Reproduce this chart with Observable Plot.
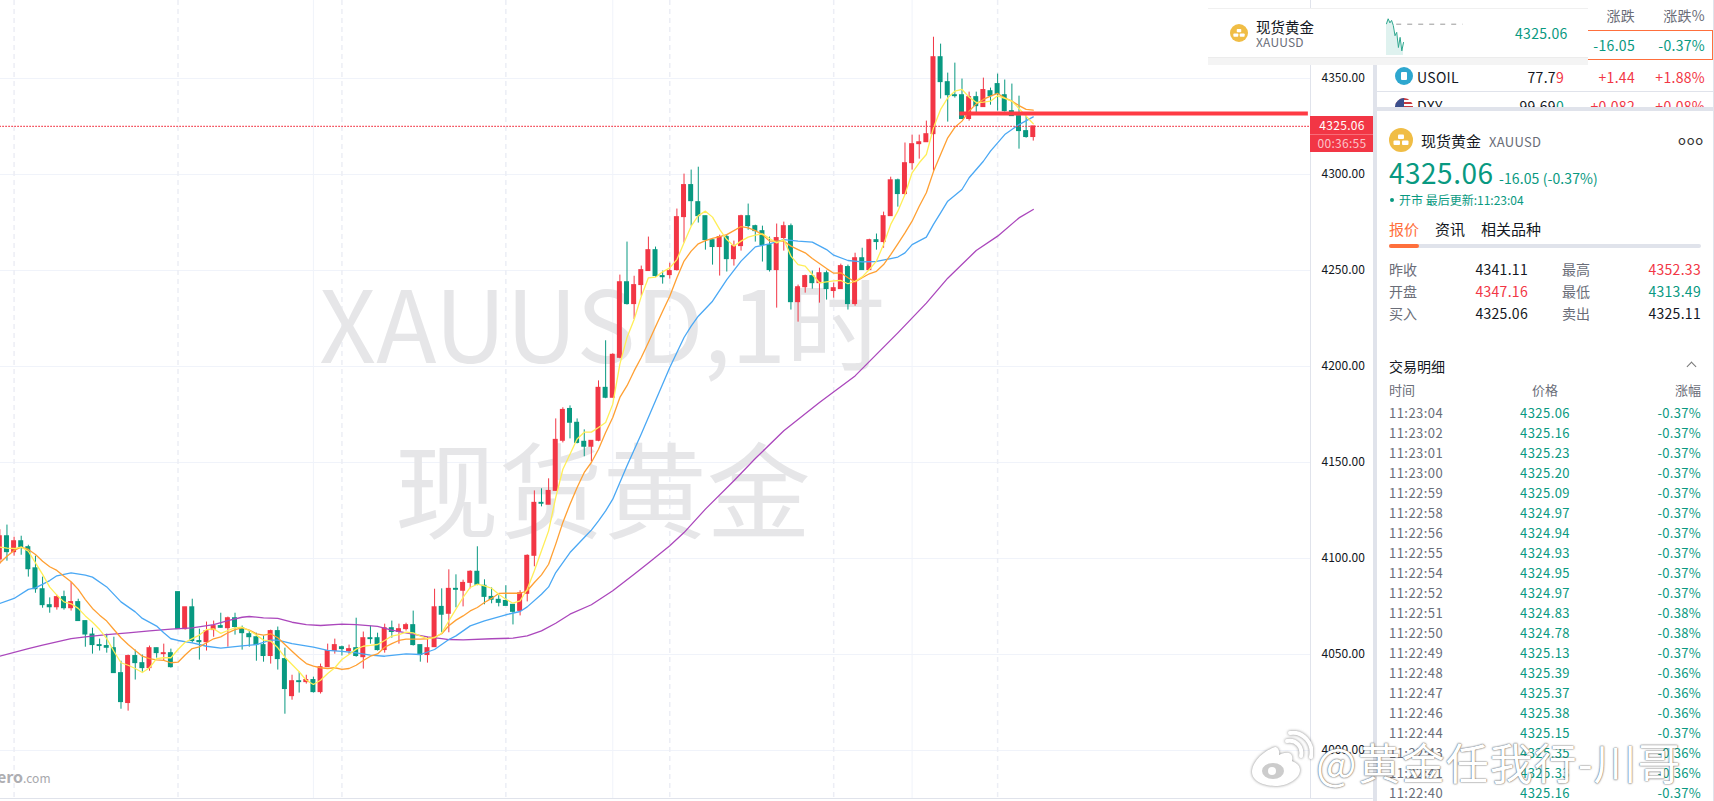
<!DOCTYPE html>
<html lang="zh">
<head>
<meta charset="utf-8">
<script src="https://cdn.jsdelivr.net/npm/d3@7"></script>
<script src="https://cdn.jsdelivr.net/npm/@observablehq/plot@0.6"></script>
<style>
html,body{margin:0;padding:0;background:#fff;}
#page{position:relative;width:1714px;height:801px;overflow:hidden;background:#fff;font-family:"Noto Sans CJK SC","Noto Sans",sans-serif;color:#131722;}
#page svg{display:block;}
.t{position:absolute;white-space:nowrap;line-height:1;transform:translateY(-50%);letter-spacing:.3px;}
.r{transform:translate(-100%,-50%);}
.c{transform:translate(-50%,-50%);}
.box{position:absolute;}
.g{color:#089981}.d{color:#f23645}.m{color:#6a6d78}
</style>
</head>
<body>
<div id="page"></div>
<script>
const open=[4099.5,4111.6,4103.3,4109.0,4105.9,4094.9,4084.0,4075.7,4074.6,4079.9,4074.1,4077.3,4067.4,4060.4,4054.9,4054.4,4053.3,4040.3,4024.7,4049.2,4045.5,4042.9,4053.3,4050.2,4050.7,4082.5,4063.2,4074.6,4057.0,4056.4,4062.7,4064.8,4063.7,4068.9,4063.7,4060.6,4059.0,4054.9,4049.2,4062.2,4047.6,4028.3,4036.1,4035.6,4036.7,4030.4,4043.4,4051.8,4053.8,4051.8,4053.3,4048.6,4058.5,4058.5,4052.3,4063.7,4061.7,4063.2,4065.3,4054.9,4049.7,4053.8,4074.8,4071.2,4084.2,4083.2,4087.3,4093.1,4085.8,4080.0,4078.5,4077.9,4075.9,4072.7,4081.6,4101.4,4129.0,4128.0,4135.2,4161.3,4177.9,4170.7,4160.8,4158.2,4161.3,4188.9,4183.7,4204.5,4243.9,4232.5,4242.4,4249.7,4260.6,4247.1,4247.6,4250.2,4277.8,4294.5,4285.6,4278.3,4265.8,4262.2,4267.4,4255.9,4262.7,4278.3,4273.1,4270.5,4263.2,4250.2,4266.9,4273.1,4233.5,4241.3,4247.1,4243.4,4248.6,4239.3,4240.3,4251.8,4232.5,4256.4,4250.2,4265.8,4264.8,4278.3,4297.0,4289.8,4305.9,4315.8,4316.8,4321.0,4361.1,4348.1,4341.3,4341.3,4328.9,4340.3,4335.1,4343.4,4347.1,4341.3,4333.0,4330.4,4322.6,4319.5];
const high=[4115,4117.4,4111.1,4111.6,4106.9,4101.2,4090.3,4079.5,4080.9,4083.0,4087.5,4078.8,4067.4,4063.7,4058.0,4060.6,4059.0,4046.5,4049.7,4052.3,4049.7,4054.4,4053.3,4055.4,4052.8,4082.5,4074.6,4078.8,4063.2,4066.9,4067.4,4071.5,4069.5,4071.5,4064.8,4062.2,4061.1,4059.6,4062.7,4064.3,4053.3,4039.2,4040.8,4039.2,4038.2,4045.0,4055.4,4058.0,4054.4,4054.9,4068.9,4061.7,4064.8,4061.1,4065.8,4067.4,4065.8,4066.3,4072.6,4054.9,4059.0,4084.0,4084.2,4094.1,4091.5,4088.7,4093.6,4106.1,4088.9,4084.7,4080.6,4085.8,4075.9,4083.2,4101.9,4135.2,4136.3,4141.5,4172.7,4178.5,4179.5,4172.7,4167.0,4161.3,4192.5,4213.4,4206.6,4247.6,4264.8,4247.0,4252.3,4267.4,4262.2,4249.7,4253.8,4282.0,4300.2,4302.3,4303.8,4278.3,4265.8,4268.4,4268.4,4265.3,4278.8,4284.6,4273.6,4273.1,4267.4,4274.2,4275.2,4274.2,4242.4,4247.6,4249.7,4251.2,4249.7,4243.4,4253.3,4252.8,4259.0,4261.6,4266.3,4269.0,4280.4,4298.6,4297.6,4316.4,4320.5,4320.5,4327.8,4371.5,4367.9,4352.8,4358.0,4349.7,4342.9,4342.9,4350.2,4345.0,4352.3,4349.2,4347.1,4340.8,4330.4,4325.06];
const low=[4097,4098.6,4101.2,4101.7,4090.3,4081.9,4074.1,4071.5,4073.1,4073.1,4072.6,4067.4,4053.8,4050.2,4051.8,4050.7,4040.3,4021.5,4020.5,4036.7,4040.8,4041.3,4048.1,4046.5,4042.9,4063.2,4062.7,4055.9,4047.1,4051.8,4059.0,4063.7,4053.8,4060.1,4052.3,4053.8,4046.5,4046.0,4045.0,4041.9,4018.9,4026.2,4029.9,4034.6,4029.9,4029.4,4043.4,4050.2,4049.2,4049.7,4048.6,4042.4,4055.4,4051.8,4050.7,4058.5,4055.4,4062.2,4054.4,4046.0,4045.5,4053.8,4061.3,4061.3,4074.3,4074.8,4084.2,4085.8,4075.9,4076.4,4074.8,4075.3,4065.4,4070.1,4077.4,4095.7,4126.9,4128.0,4135.2,4160.2,4162.3,4159.7,4153.0,4150.3,4160.8,4183.2,4183.7,4204.0,4232.0,4224.5,4236.6,4249.7,4246.5,4242.9,4245.5,4249.7,4264.3,4273.1,4274.7,4260.6,4252.8,4247.1,4249.2,4252.3,4260.1,4271.0,4264.8,4254.4,4249.2,4230.4,4260.1,4229.4,4223.1,4238.2,4240.3,4233.0,4234.6,4235.6,4240.3,4229.4,4231.4,4250.2,4250.2,4260.6,4261.6,4278.3,4283.0,4289.2,4302.3,4308.0,4316.8,4301.8,4339.3,4327.3,4339.8,4328.9,4327.8,4332.0,4335.1,4336.1,4333.0,4332.5,4330.4,4313.2,4318.9,4317.4];
const close=[4111.6,4103.3,4109.0,4105.9,4094.4,4084.0,4075.7,4074.6,4079.9,4074.1,4077.3,4067.4,4060.4,4054.9,4054.4,4053.5,4040.3,4025.2,4049.2,4045.5,4042.9,4053.3,4050.7,4050.7,4043.4,4063.2,4074.6,4057.0,4056.4,4062.2,4064.8,4063.9,4068.9,4064.3,4061.1,4059.0,4054.9,4049.2,4062.2,4047.6,4032.0,4036.1,4035.6,4036.7,4030.4,4043.4,4051.8,4054.9,4052.8,4052.8,4049.2,4058.5,4058.0,4052.3,4063.7,4061.7,4063.2,4065.3,4054.9,4049.7,4053.3,4074.6,4070.7,4084.2,4083.7,4087.3,4093.1,4086.3,4080.0,4078.5,4076.9,4075.3,4072.2,4081.9,4101.4,4129.0,4128.5,4135.2,4161.8,4177.4,4170.7,4160.2,4158.2,4161.3,4188.9,4183.7,4206.1,4243.9,4232.5,4242.4,4250.2,4260.6,4247.1,4246.5,4249.7,4277.8,4294.5,4286.1,4278.3,4265.8,4262.2,4267.4,4255.9,4262.7,4278.3,4273.1,4270.5,4263.2,4250.2,4266.9,4273.1,4233.5,4241.3,4247.1,4243.4,4248.6,4240.3,4240.8,4252.3,4232.5,4256.4,4250.2,4265.8,4264.8,4278.3,4297.0,4289.8,4305.9,4315.8,4316.8,4321.0,4361.1,4348.1,4341.3,4340.8,4328.9,4340.3,4335.6,4344.0,4340.8,4341.9,4333.0,4330.4,4322.6,4319.5,4325.06];
const maYellow=[4105.9,4105.4,4105.2,4105.9,4103.8,4097.7,4091.7,4085.1,4080.9,4077.4,4076.4,4074.0,4070.1,4066.8,4063.0,4058.3,4051.7,4045.7,4044.4,4042.7,4040.6,4043.1,4047.9,4048.3,4048.3,4052.6,4056.4,4058.3,4060.1,4063.0,4063.4,4061.0,4062.5,4063.9,4064.2,4062.5,4060.1,4057.5,4057.0,4053.5,4048.6,4044.8,4041.0,4036.6,4034.4,4036.6,4040.1,4043.1,4047.4,4050.0,4052.8,4054.3,4054.7,4055.2,4057.3,4059.6,4060.4,4061.6,4061.3,4059.6,4058.3,4058.8,4061.1,4067.5,4073.6,4079.7,4084.9,4086.6,4085.8,4084.5,4081.4,4078.8,4076.7,4077.9,4084.0,4093.6,4104.0,4114.4,4131.8,4146.5,4154.3,4162.2,4165.8,4165.8,4168.2,4170.8,4180.4,4201.2,4215.1,4224.5,4236.5,4246.2,4246.5,4249.3,4251.4,4255.7,4264.4,4273.1,4278.6,4280.9,4277.8,4271.4,4266.1,4262.7,4265.3,4267.4,4268.4,4269.1,4266.7,4264.4,4266.1,4257.5,4253.1,4252.3,4247.9,4243.6,4244.1,4244.6,4244.8,4243.1,4244.4,4246.7,4250.5,4254.9,4263.6,4274.0,4280.9,4289.6,4300.9,4306.1,4310.4,4324.3,4333.9,4339.9,4343.4,4344.3,4340.3,4337.5,4337.7,4338.2,4341.0,4339.6,4338.2,4334.4,4330.4,4326.4];
const maOrange=[4097.7,4101.2,4104.2,4105.9,4104.7,4102.1,4098.6,4095.7,4093.8,4090.8,4087.9,4083.9,4078.6,4074.0,4070.5,4067.4,4063.0,4058.7,4055.2,4052.1,4049.1,4047.9,4047.2,4046.9,4045.7,4046.0,4049.7,4053.1,4054.0,4056.1,4058.2,4059.2,4061.3,4063.0,4063.9,4062.7,4060.8,4060.1,4060.8,4058.7,4055.2,4051.7,4048.3,4045.3,4043.9,4043.1,4042.7,4043.1,4042.2,4042.7,4044.4,4046.9,4049.1,4050.3,4053.8,4055.7,4057.3,4058.0,4058.0,4058.0,4058.2,4059.0,4060.8,4065.0,4067.9,4070.1,4072.7,4074.5,4077.1,4079.2,4081.8,4081.9,4081.9,4081.9,4083.2,4087.5,4091.5,4097.0,4107.5,4118.8,4128.3,4137.0,4144.8,4150.0,4156.9,4165.6,4173.4,4183.9,4190.0,4197.7,4204.7,4212.5,4220.7,4228.8,4236.6,4246.2,4254.9,4260.1,4263.9,4265.6,4266.7,4267.7,4268.7,4270.8,4272.9,4272.2,4270.8,4268.7,4265.3,4265.3,4265.3,4262.7,4260.9,4259.2,4256.3,4253.6,4251.0,4248.6,4248.8,4246.2,4244.1,4246.2,4248.3,4249.6,4253.1,4258.3,4263.9,4269.6,4275.7,4283.5,4290.5,4301.5,4310.4,4319.1,4324.6,4327.8,4333.0,4336.8,4339.1,4340.8,4342.2,4339.9,4338.2,4335.9,4333.9,4333.5];
const blueIdx=[0,2,4,5,7,8,10,12,13,15,17,19,20,22,23,24,25,27,29,31,34,36,38,39,41,44,46,48,50,52,54,57,59,61,63,64,66,68,71,73,74,76,77,78,79,80,82,83,84,85,86,88,90,92,94,96,97,98,100,102,104,106,108,110,112,114,116,117,119,121,123,125,126,127,128,130,131,132,133,135,136,137,138,139,140,141,143,145];
const blueVal=[4076.6,4079.2,4083.9,4084.7,4088.5,4091.0,4092.5,4091.3,4090.3,4085.2,4077.4,4072.2,4068.8,4064.8,4061.3,4058.2,4057.3,4056.1,4054.3,4053.3,4054.5,4055.2,4057.5,4057.5,4055.7,4053.8,4052.1,4051.6,4050.9,4049.7,4049.1,4050.3,4050.0,4052.6,4057.8,4059.7,4064.9,4067.5,4070.7,4072.4,4074.8,4081.4,4085.2,4092.7,4097.9,4103.1,4110.9,4114.8,4119.6,4124.8,4130.9,4148.3,4164.8,4182.1,4199.5,4215.1,4221.0,4226.2,4234.0,4245.3,4254.9,4262.3,4263.9,4266.1,4265.3,4264.8,4260.9,4258.0,4255.2,4254.5,4254.7,4256.2,4257.0,4259.2,4263.5,4267.4,4274.0,4280.0,4286.1,4292.2,4298.3,4302.6,4306.9,4312.2,4316.5,4320.8,4326.0,4330.0];
const purpleIdx=[0,4,6,8,10,12,15,18,21,24,27,30,32,34,35,37,39,41,43,45,48,50,53,55,57,60,62,63,65,69,72,74,76,78,80,83,86,89,91,94,96,99,103,106,110,115,120,126,130,133,137,140,143,145];
const purpleVal=[4049.1,4053.0,4054.9,4056.6,4058.3,4059.2,4060.4,4061.3,4062.3,4063.2,4063.9,4065.6,4067.7,4069.4,4069.8,4069.1,4068.8,4066.8,4065.6,4065.1,4065.8,4065.6,4064.6,4062.7,4061.3,4059.2,4058.3,4057.8,4057.6,4058.2,4058.5,4059.7,4062.3,4066.3,4071.0,4075.9,4083.2,4091.8,4097.6,4106.6,4113.5,4125.7,4140.5,4152.1,4166.5,4181.2,4195.1,4217.5,4233.0,4246.0,4260.4,4267.9,4277.4,4281.8];
const priceTicks=[4000,4050,4100,4150,4200,4250,4300,4350];
const dashedGrid=[2,25,48,71,94,117,140];
const solidGrid=[44,86,128];
const lastPrice=[4325.06];
const supportLevel=4331.8;
const sparkVal=[4341.4,4345.1,4342.1,4343.9,4340.1,4332.6,4335.1,4323.9,4331.4,4321.4,4327.6];
const tradeTime=["11:23:04","11:23:02","11:23:01","11:23:00","11:22:59","11:22:58","11:22:56","11:22:55","11:22:54","11:22:52","11:22:51","11:22:50","11:22:49","11:22:48","11:22:47","11:22:46","11:22:44","11:22:43","11:22:41","11:22:40"];
const tradePrice=["4325.06","4325.16","4325.23","4325.20","4325.09","4324.97","4324.94","4324.93","4324.95","4324.97","4324.83","4324.78","4325.13","4325.39","4325.37","4325.38","4325.15","4325.35","4325.33","4325.16"];
const tradePct=["-0.37%","-0.37%","-0.37%","-0.37%","-0.37%","-0.37%","-0.37%","-0.37%","-0.37%","-0.37%","-0.38%","-0.38%","-0.37%","-0.36%","-0.36%","-0.36%","-0.37%","-0.36%","-0.36%","-0.37%"];

const CN='"Noto Sans CJK SC","Noto Sans",sans-serif';
const RED="#f23645",GREEN="#089981",GRID="#f0f3fa",BORDER="#e0e3eb";
const candles=open.map((o,i)=>({i,o,h:high[i],l:low[i],c:close[i],color:close[i]>=o?RED:GREEN}));
const series=a=>a.map((v,i)=>({i,v}));
const sparse=(ix,a)=>ix.map((i,k)=>({i,v:a[k]}));
const XR=183.9;

const chart=Plot.plot({
  width:1373,height:801,marginLeft:0,marginTop:0,marginBottom:3,marginRight:63,
  style:{fontFamily:CN,fontSize:"12px",color:"#131722",background:"transparent"},
  x:{type:"linear",domain:[0,XR],range:[-0.67,1310],axis:null},
  y:{type:"linear",domain:[3975,4390.625],range:[798,0],axis:null},
  marks:[
    Plot.ruleY(priceTicks,{stroke:GRID,strokeWidth:1}),
    Plot.ruleX(solidGrid,{stroke:GRID,strokeWidth:1}),
    Plot.ruleX(dashedGrid,{stroke:"#eceef5",strokeWidth:1.5,strokeDasharray:"5,4"}),
    Plot.text(["XAUUSD,1时"],{x:[84.5],y:[4218.5],fontSize:99,fill:"#e6e6e8",fontFamily:CN,textAnchor:"middle"}),
    Plot.text(["现货黄金"],{x:[84.6],y:[4131.5],fontSize:104,fill:"#e6e6e8",fontFamily:CN,textAnchor:"middle"}),
    Plot.ruleX(candles,{x:"i",y1:"l",y2:"h",stroke:"color",strokeWidth:1}),
    Plot.rect(candles,{x1:d=>d.i-0.35,x2:d=>d.i+0.35,y1:d=>Math.min(d.o,d.c)-0.25,y2:d=>Math.max(d.o,d.c)+0.25,fill:"color"}),
    Plot.line(sparse(purpleIdx,purpleVal),{x:"i",y:"v",stroke:"#ab47bc",strokeWidth:1.3}),
    Plot.line(sparse(blueIdx,blueVal),{x:"i",y:"v",stroke:"#4aa8f4",strokeWidth:1.3}),
    Plot.line(series(maOrange),{x:"i",y:"v",stroke:"#ffa033",strokeWidth:1.3}),
    Plot.line(series(maYellow),{x:"i",y:"v",stroke:"#ffee58",strokeWidth:1.3}),
    Plot.ruleY([supportLevel],{x1:134.7,x2:183.6,stroke:"#ff3b44",strokeWidth:4}),
    Plot.ruleY(lastPrice,{x1:0,x2:XR,stroke:RED,strokeWidth:1.2,strokeDasharray:"1.5,1.5"}),
    Plot.ruleX([XR],{stroke:BORDER,strokeWidth:1}),
    Plot.ruleY([3975],{x1:0,x2:192.7,stroke:BORDER,strokeWidth:1}),
    Plot.axisY(priceTicks,{anchor:"right",tickSize:0,tickPadding:11,label:null,fill:"#131722",fontSize:12,tickFormat:d=>d.toFixed(2)})
  ]
});
const page=document.getElementById("page");
chart.style.position="absolute";chart.style.left="0";chart.style.top="0";
page.appendChild(chart);

function box(l,t,w,h,style=""){const e=document.createElement("div");e.className="box";e.style.cssText=`left:${l}px;top:${t}px;width:${w}px;height:${h}px;${style}`;page.appendChild(e);return e;}
function txt(s,x,y,size,cls="",extra="",parent=page){const e=document.createElement("div");e.className="t "+cls;e.innerHTML=s;e.style.cssText=`left:${x}px;top:${y}px;font-size:${size}px;${extra}`;parent.appendChild(e);return e;}
function gold(cx,cy,r){
  const n=document.createElementNS("http://www.w3.org/2000/svg","svg");
  n.setAttribute("width",r*2);n.setAttribute("height",r*2);n.setAttribute("viewBox","0 0 24 24");
  n.style.cssText=`position:absolute;left:${cx-r}px;top:${cy-r}px;`;
  n.innerHTML='<circle cx="12" cy="12" r="12" fill="#f0bd45"/><rect x="9" y="6.5" width="6" height="4.5" rx="1" fill="#fff"/><rect x="4.5" y="12.5" width="6.5" height="4.5" rx="1" fill="#fff"/><rect x="13" y="12.5" width="6.5" height="4.5" rx="1" fill="#fff"/>';
  page.appendChild(n);
}

txt('<span style="font-weight:700;font-size:16px;color:#aeaeb2">ero</span><span style="font-size:12px;color:#a8a8ac">.com</span>',-3,776,12,"","letter-spacing:0");

box(1310,116,63,36,`background:${RED};border:0`);
box(1310,134,63,1,"background:#f76d79");
txt("4325.06",1342,125,12,"c","color:#fff;");
txt("00:36:55",1342,143,12,"c","color:#fbc4c9;");

box(1373,65,4,736,`background:${BORDER}`);
box(1377,107,337,4,`background:${BORDER}`);
box(1377,91,337,1,`background:${BORDER}`);
box(1713,0,1,801,`background:${BORDER}`);

txt("涨跌",1635,15,14,"r m");
txt("涨跌%",1705,15,14,"r m");
box(1588,30,124,28,"border:1px solid #ff6f3c;border-left:0;");
txt("-16.05",1635,45,14,"r g");
txt("-0.37%",1705,45,14,"r g");
const usoil=document.createElement("div");usoil.className="box";usoil.style.cssText="left:1395px;top:67px;width:18px;height:18px;border-radius:50%;background:#2ea7cf;";page.appendChild(usoil);
box(1401,72,6,8,"background:#fff;border-radius:1px");
txt("USOIL",1417,77,14,"","color:#131722");
txt('77.7<span class="d">9</span>',1564,77,14,"r");
txt("+1.44",1635,77,14,"r d");
txt("+1.88%",1705,77,14,"r d");
const dxyClip=box(1377,92,337,15,"overflow:hidden;");
txt("DXY",40,14,14,"","",dxyClip);
txt('99.69<span class="g">0</span>',187,14,14,"r","",dxyClip);
txt("+0.082",258,14,14,"r d","",dxyClip);
txt("+0.08%",328,14,14,"r d","",dxyClip);
const flag=document.createElement("div");flag.style.cssText="position:absolute;left:18px;top:6px;width:18px;height:18px;border-radius:50%;background:repeating-linear-gradient(#c8393f 0 2px,#fff 2px 4px);";dxyClip.appendChild(flag);
const flagC=document.createElement("div");flagC.style.cssText="position:absolute;left:18px;top:6px;width:9px;height:9px;background:#3b4f8c;border-radius:9px 0 0 0;";dxyClip.appendChild(flagC);

gold(1401,140,12);
txt("现货黄金",1421,140,15,"","letter-spacing:0");
txt("XAUUSD",1489,141,13,"m");
txt("ooo",1678,139,13,"","letter-spacing:.8px;color:#333;");
txt("4325.06",1389,172,28,"g","letter-spacing:.5px;");
txt("-16.05 (-0.37%)",1499,178,14,"g","letter-spacing:.1px;");
box(1390,198,4,4,`border-radius:50%;background:${GREEN}`);
txt("开市 最后更新:11:23:04",1399,200,12,"g","letter-spacing:0;");
txt("报价",1389,228,15,"","color:#ff6f3c;letter-spacing:0");
txt("资讯",1435,228,15,"","letter-spacing:0");
txt("相关品种",1481,228,15,"","letter-spacing:0");
box(1389,244,312,4,`background:${BORDER};border-radius:2px`);
box(1389,244,30,4,"background:#ff6f3c;border-radius:2px");
[["昨收","4341.11","","最高","4352.33","d"],["开盘","4347.16","d","最低","4313.49","g"],["买入","4325.06","","卖出","4325.11",""]].forEach((r,k)=>{
  const y=269+k*22;
  txt(r[0],1389,y,14,"m","letter-spacing:0");
  txt(r[1],1528,y,14,"r "+r[2]);
  txt(r[3],1562,y,14,"m","letter-spacing:0");
  txt(r[4],1701,y,14,"r "+r[5]);
});
txt("交易明细",1389,366,14,"","letter-spacing:0");
box(1688,363,6,6,"border-left:1px solid #777;border-top:1px solid #777;transform:rotate(45deg);");
txt("时间",1389,389,13,"m","letter-spacing:0");
txt("价格",1545,389,13,"c m","letter-spacing:0");
txt("涨幅",1701,389,13,"r m","letter-spacing:0");
tradeTime.forEach((t,k)=>{
  const y=412+k*20;
  txt(t,1389,y,13,"m","letter-spacing:.45px;");
  txt(tradePrice[k],1545,y,13,"c g","letter-spacing:.45px;");
  txt(tradePct[k],1701,y,13,"r g","letter-spacing:.3px;");
});

box(1208,8,380,57,"background:#fff;border-top:1px solid #f0f0f0;box-sizing:border-box;");
box(1208,57,380,8,"background:#f4f4f4;border-top:1px solid #ececec;box-sizing:border-box;");
gold(1239,33,9);
txt("现货黄金",1256,27,14.5,"","letter-spacing:0");
txt("XAUUSD",1256,42,12,"m","letter-spacing:.2px");
txt("4325.06",1515,33,14,"g","letter-spacing:.3px");
const sData=series(sparkVal);
const spark=Plot.plot({
  width:80,height:42,margin:0,
  style:{background:"transparent"},
  x:{domain:[0,47],range:[0,80],axis:null},
  y:{domain:[4318,4349],range:[42,0],axis:null},
  marks:[
    Plot.areaY(sData,{x:"i",y1:4318,y2:"v",fill:GREEN,fillOpacity:.13}),
    Plot.lineY(sData,{x:"i",y:"v",stroke:"#2fa88f",strokeWidth:1}),
    Plot.ruleY([4341.11],{x1:6,x2:45,stroke:"#999",strokeWidth:1,strokeDasharray:"5,6"})
  ]
});
spark.style.cssText="position:absolute;left:1386px;top:13px;background:transparent;";
page.appendChild(spark);

const wb=document.createElementNS("http://www.w3.org/2000/svg","svg");
wb.setAttribute("width",64);wb.setAttribute("height",56);wb.setAttribute("viewBox","0 0 64 56");
wb.style.cssText="position:absolute;left:1249px;top:731px;filter:drop-shadow(0 0 1.5px rgba(90,90,90,.75));";
wb.innerHTML='<path d="M26 16C14 20 3 31 3 41c0 9 12 14 23 14 14 0 25-8 25-16 0-6-6-8-8-9 1-4 0-7-3-8-4-1-8 1-10 2 1-4-1-8-4-8z" fill="#fff"/><ellipse cx="24" cy="40" rx="11" ry="8" fill="#ccc"/><circle cx="23" cy="40" r="4" fill="#fff"/><path d="M38 10c9-2 16 6 14 15" fill="none" stroke="#fff" stroke-width="4" stroke-linecap="round"/><path d="M41 2c13-2 24 10 21 24" fill="none" stroke="#fff" stroke-width="4" stroke-linecap="round"/>';
page.appendChild(wb);
txt("@黄金任我行-川哥",1316,761,43,"","color:#fff;letter-spacing:1px;text-shadow:0 0 2px rgba(70,70,70,.8),0 0 1px rgba(70,70,70,.8);");
</script>
</body>
</html>
